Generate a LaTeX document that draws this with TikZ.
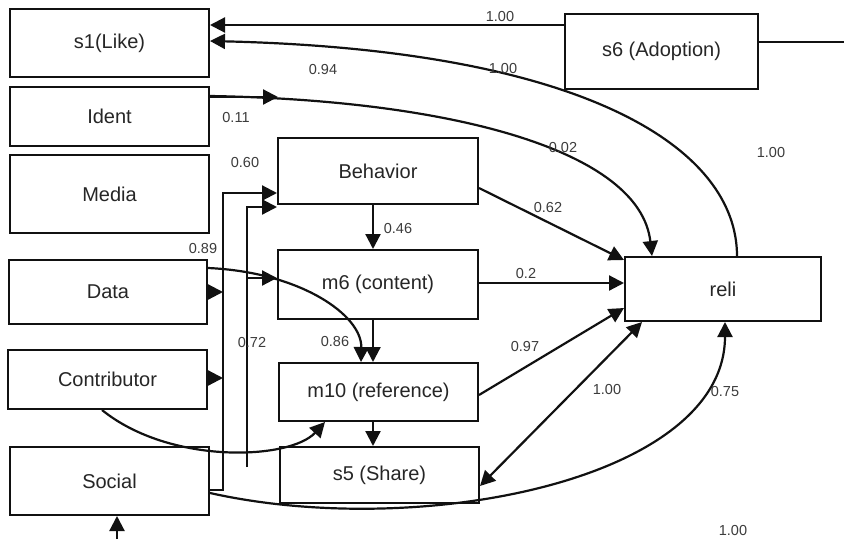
\documentclass[tikz,border=0pt]{standalone}
\usepackage{fontspec}
\setmainfont{Liberation Sans}
\usetikzlibrary{arrows.meta}
\definecolor{ink}{HTML}{111111}
\definecolor{txt}{HTML}{262626}
\definecolor{lbl}{HTML}{3C3C3C}
\tikzset{
  box/.style={draw=ink, line width=2pt, inner sep=0pt, text=txt,
              font=\fontsize{20}{24}\selectfont},
  conn/.style={draw=ink, line width=2.2pt},
  arr/.style={conn, -{Triangle[length=15pt,width=15pt]}},
  darr/.style={conn, {Triangle[length=15pt,width=15pt]}-{Triangle[length=15pt,width=15pt]}},
  coef/.style={text=lbl, inner sep=0pt, font=\fontsize{14.5}{17}\selectfont},
}
\begin{document}
\begin{tikzpicture}[x=1pt,y=-1pt]
\useasboundingbox[fill=white] (0,0) rectangle (844,539);

% left column of indicators
\node[box, minimum width=199pt, minimum height=68pt] (s1) at (109.5,43) {s1(Like)};
\node[box, minimum width=199pt, minimum height=59pt] (ident) at (109.5,116.5) {Ident};
\node[box, minimum width=199pt, minimum height=78pt] (media) at (109.5,194) {Media};
\node[box, minimum width=198pt, minimum height=64pt] (data) at (108,292) {Data};
\node[box, minimum width=199pt, minimum height=59pt] (contrib) at (107.5,379.5) {Contributor};
\node[box, minimum width=199pt, minimum height=68pt] (social) at (109.5,481) {Social};

% middle column
\node[box, minimum width=200pt, minimum height=66pt] (behav) at (378,171) {Behavior};
\node[box, minimum width=200pt, minimum height=69pt] (m6) at (378,284.5) {m6 (content)};
\node[box, minimum width=199pt, minimum height=58pt] (m10) at (378.5,392) {m10 (reference)};
\node[box, minimum width=199pt, minimum height=56pt] (s5) at (379.5,475) {s5 (Share)};

% right side
\node[box, minimum width=196pt, minimum height=64pt] (reli) at (723,289) {reli};
\node[box, minimum width=193pt, minimum height=75pt] (s6) at (661.5,51.5) {s6 (Adoption)};

% free ends
\coordinate (rightend) at (844,42);
\coordinate (identtip) at (278,97);
\coordinate (bus) at (223,193);
\coordinate (busdata) at (223,292);
\coordinate (buscontrib) at (223,378);
\coordinate (busfoot) at (223,490);
\coordinate (stemfoot) at (247,467);
\coordinate (stemtop) at (247,207);
\coordinate (stemmid) at (247,278);
\coordinate (socialfoot) at (117,539);

% top connectors
\draw[arr] (s6.west |- 0,25) -- (s1.east |- 0,25);
\draw[conn, line width=1.5pt] (s6.east |- 0,42) -- (rightend);
\draw[arr] (reli.north -| 737,0) .. controls (737,150) and (590,50) .. (s1.east |- 0,41);
\draw[arr] (ident.east |- 0,97) -- (identtip);
\draw[arr] (ident.east |- 0,96) .. controls (450,100) and (640,150) .. (reli.north -| 652,0);

% paths into reli
\draw[arr] (behav.east |- 0,188) -- (reli.west |- 0,260);
\draw[arr] (m6.east |- 0,283) -- (reli.west |- 0,283);
\draw[arr] (m10.east |- 0,395) -- (reli.west |- 0,308);
\draw[darr] (s5.east |- 0,486) -- (reli.south -| 642,0);
\draw[arr] (social.east |- 0,493) .. controls (420,540) and (725,480) .. (reli.south -| 725,0);

% middle chain
\draw[arr] (behav.south -| 373,0) -- (m6.north -| 373,0);
\draw[arr] (m6.south -| 373,0) -- (m10.north -| 373,0);
\draw[arr] (m10.south -| 373,0) -- (s5.north -| 373,0);

% curved paths into m10
\draw[arr] (data.east |- 0,268) .. controls (300,272) and (362,315) .. (m10.north -| 361,0);
\draw[arr] (contrib.south -| 102,0) .. controls (170,465) and (290,460) .. (m10.south -| 325,0);

% elbow connectors
\draw[arr] (data.east |- 0,292) -- (busdata);
\draw[arr] (contrib.east |- 0,378) -- (buscontrib);
\draw[arr] (social.east |- 0,490) -- (busfoot) -- (bus) -- (behav.west |- 0,193);
\draw[arr] (stemfoot) -- (stemtop) -- (behav.west |- 0,207);
\draw[arr] (stemmid) -- (m6.west |- 0,278);
\draw[arr] (socialfoot) -- (social.south -| 117,0);

% coefficients
\node[coef] (c1) at (500,17) {1.00};
\node[coef] (c2) at (323,70) {0.94};
\node[coef] (c3) at (503,69) {1.00};
\node[coef] (c4) at (236,118) {0.11};
\node[coef] (c5) at (563,148) {0.02};
\node[coef] (c6) at (245,163) {0.60};
\node[coef] (c7) at (771,153) {1.00};
\node[coef] (c8) at (548,208) {0.62};
\node[coef] (c9) at (398,229) {0.46};
\node[coef] (c10) at (203,249) {0.89};
\node[coef] (c11) at (526,274) {0.2};
\node[coef] (c12) at (252,343) {0.72};
\node[coef] (c13) at (335,342) {0.86};
\node[coef] (c14) at (525,347) {0.97};
\node[coef] (c15) at (607,390) {1.00};
\node[coef] (c16) at (725,392) {0.75};
\node[coef] (c17) at (733,530) {1.00};
\end{tikzpicture}
\end{document}
